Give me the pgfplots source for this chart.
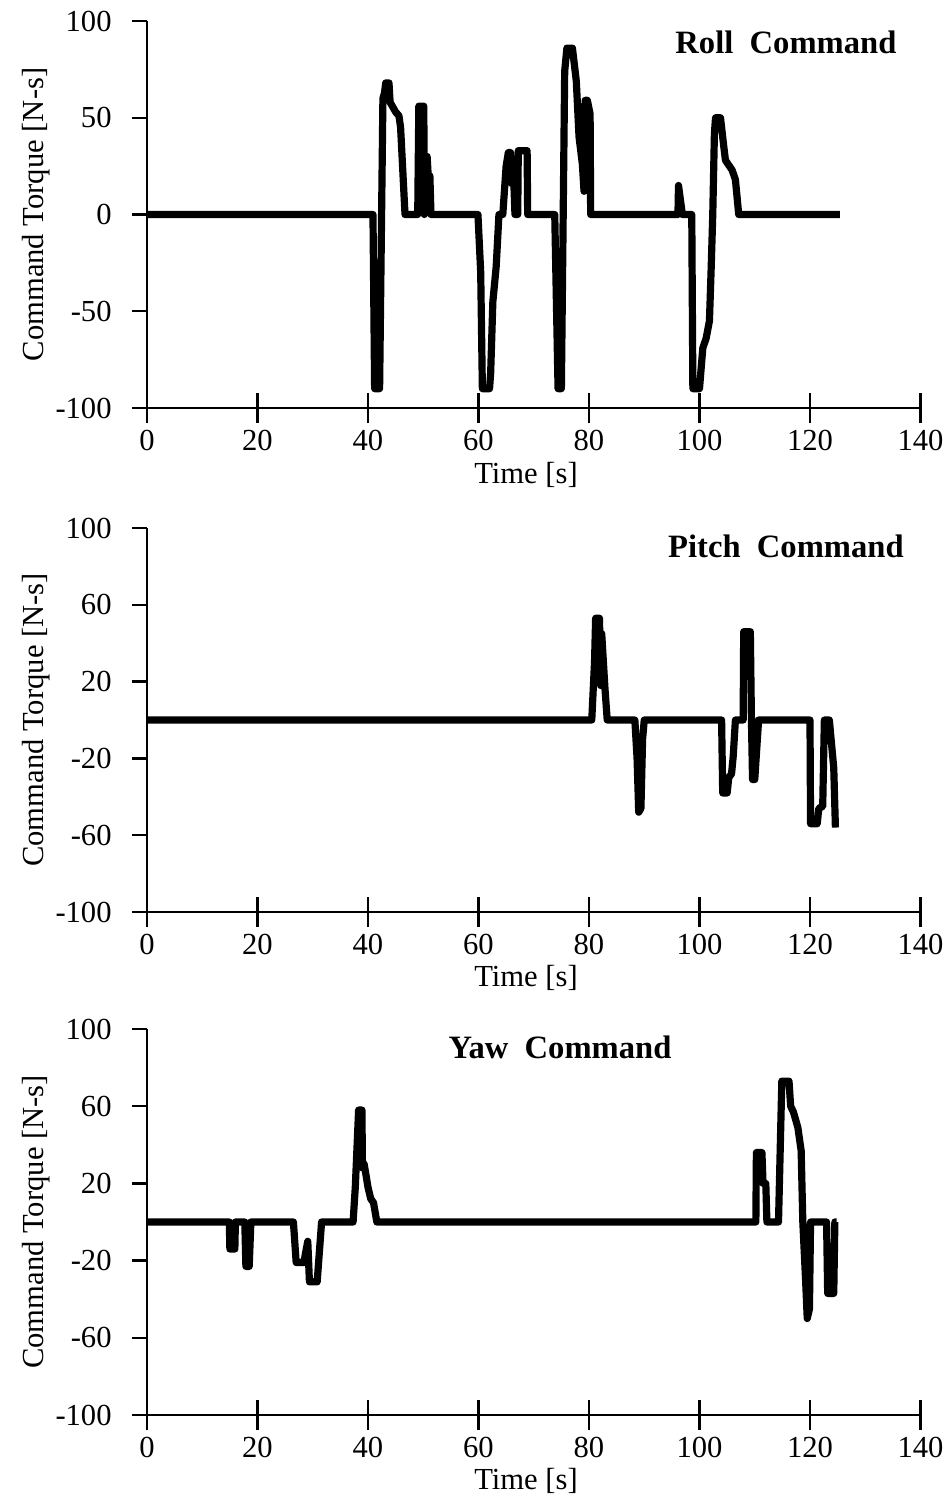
\documentclass[border=0pt]{standalone}
\usepackage{fontspec}
\setmainfont{Liberation Serif}
\usepackage{pgfplots}
\pgfplotsset{compat=1.18}

\newcommand\ticksz{\fontsize{15.3}{18}\selectfont}
\newcommand\labsz{\fontsize{15.3}{18}\selectfont}
\newcommand\ttlsz{\fontsize{16.3}{19}\selectfont\bfseries}

\pgfplotsset{
  cmdax/.style={
    scale only axis, width=386.75pt, anchor=south west,
    axis x line*=bottom, axis y line*=left,
    axis line style={-, line width=1.3pt, black},
    xmin=0, xmax=140, ymin=-100, ymax=100,
    xtick={0,20,...,140},
    tick style={line width=1.2pt, black},
    major tick length=7.5pt, tick align=outside,
    extra x ticks={0,20,...,140}, extra x tick labels={},
    extra x tick style={tick align=inside},
    /pgf/number format/assume math mode=true,
    tick label style={font=\ticksz},
    xticklabel style={anchor=base, yshift=-13.5pt},
    yticklabel style={anchor=east, inner sep=0pt, xshift=-10pt},
    every axis x label/.style={at={(rel axis cs:0.49,-0.194)}, anchor=base, font=\labsz},
    every axis y label/.style={at={(rel axis cs:-0.1332,0.5)}, rotate=90, anchor=base, font=\labsz},
    xlabel={Time [s]}, ylabel={Command Torque [N-s]},
  },
  cmdline/.style={black, line width=3.6pt, line join=round, mark=none},
}

\begin{document}
\begin{tikzpicture}

% roll
\begin{axis}[cmdax, at={(73.5pt,-204pt)}, height=193.5pt, ytick={-100,-50,0,50,100}]
\addplot[cmdline] coordinates {(0,0)(40.9,0)(41.2,-90)(42.1,-90)(42.7,60)(43.0,63)(43.2,68)(43.8,68)(44.0,58)(44.6,55)(45.0,53)(45.6,51)(45.9,45)(46.7,0)(49.0,0)(49.2,56)(50.1,56)(50.2,0)(50.4,30)(50.7,30)(50.9,20)(51.2,20)(51.4,0)(59.9,0)(60.4,-30)(60.7,-90)(62.0,-90)(62.2,-82)(62.6,-45)(63.2,-27)(63.7,0)(64.4,0)(65.0,25)(65.4,32)(65.8,32)(66.0,16)(66.4,16)(66.6,0)(67.1,0)(67.2,33)(68.8,33)(68.9,0)(73.8,0)(74.4,-90)(75.0,-90)(75.6,74)(76.0,86)(77.0,86)(77.7,69)(78.2,40)(78.8,26)(79.1,12)(79.3,59)(79.7,59)(80.2,52)(80.3,0)(96.1,0)(96.2,15)(96.9,0)(98.6,0)(98.8,-90)(100.0,-90)(100.6,-69)(101.2,-64)(101.8,-55)(102.1,-29)(102.4,0)(102.7,42)(102.9,50)(103.8,50)(104.4,35)(104.7,28)(105.9,23)(106.5,18)(107.1,0)(125.4,0)};
\node[font=\ttlsz] at (rel axis cs:0.826,0.946) {Roll\ \ Command};
\end{axis}

% pitch
\begin{axis}[cmdax, at={(73.5pt,-456pt)}, height=192pt, ytick={-100,-60,-20,20,60,100}]
\addplot[cmdline] coordinates {(0,0)(80.5,0)(81.0,30)(81.2,53)(81.9,53)(82.1,18)(82.3,45)(82.9,16)(83.3,0)(88.3,0)(88.7,-20)(89.0,-48)(89.4,-46)(89.7,-10)(90.0,0)(104.0,0)(104.2,-38)(105.0,-38)(105.3,-30)(105.8,-28)(106.1,-19)(106.5,0)(107.9,0)(108.0,46)(109.2,46)(109.4,0)(109.6,-31)(110.0,-31)(110.7,0)(120.0,0)(120.1,-54)(121.3,-54)(121.6,-46)(122.3,-45)(122.6,0)(123.5,0)(124.3,-25)(124.6,-56)};
\node[font=\ttlsz] at (rel axis cs:0.826,0.953) {Pitch\ \ Command};
\end{axis}

% yaw
\begin{axis}[cmdax, at={(73.5pt,-707.5pt)}, height=193pt, ytick={-100,-60,-20,20,60,100}]
\addplot[cmdline] coordinates {(0,0)(14.9,0)(15.0,-14)(15.9,-14)(16.0,0)(17.7,0)(17.9,-23)(18.5,-23)(18.8,0)(26.5,0)(27.0,-21)(28.4,-21)(28.7,-16)(29.1,-10)(29.4,-31)(30.8,-31)(31.6,0)(37.3,0)(37.7,18)(38.0,38)(38.3,58)(38.9,58)(39.0,28)(39.3,30)(39.6,25)(40.0,18)(40.5,12)(41.0,10)(41.6,0)(110.2,0)(110.3,36)(111.3,36)(111.5,20)(112.0,20)(112.2,0)(114.3,0)(114.9,73)(116.2,73)(116.5,60)(117.0,57)(117.8,49)(118.4,37)(118.7,0)(119.2,-30)(119.5,-50)(119.9,-45)(120.1,0)(123.0,0)(123.2,-37)(124.3,-37)(124.5,0)(124.8,0)};
\node[font=\ttlsz] at (rel axis cs:0.534,0.953) {Yaw\ \ Command};
\end{axis}

\pgfresetboundingbox
\useasboundingbox (0pt,0pt) rectangle (471.5pt,-748pt);
\end{tikzpicture}
\end{document}
